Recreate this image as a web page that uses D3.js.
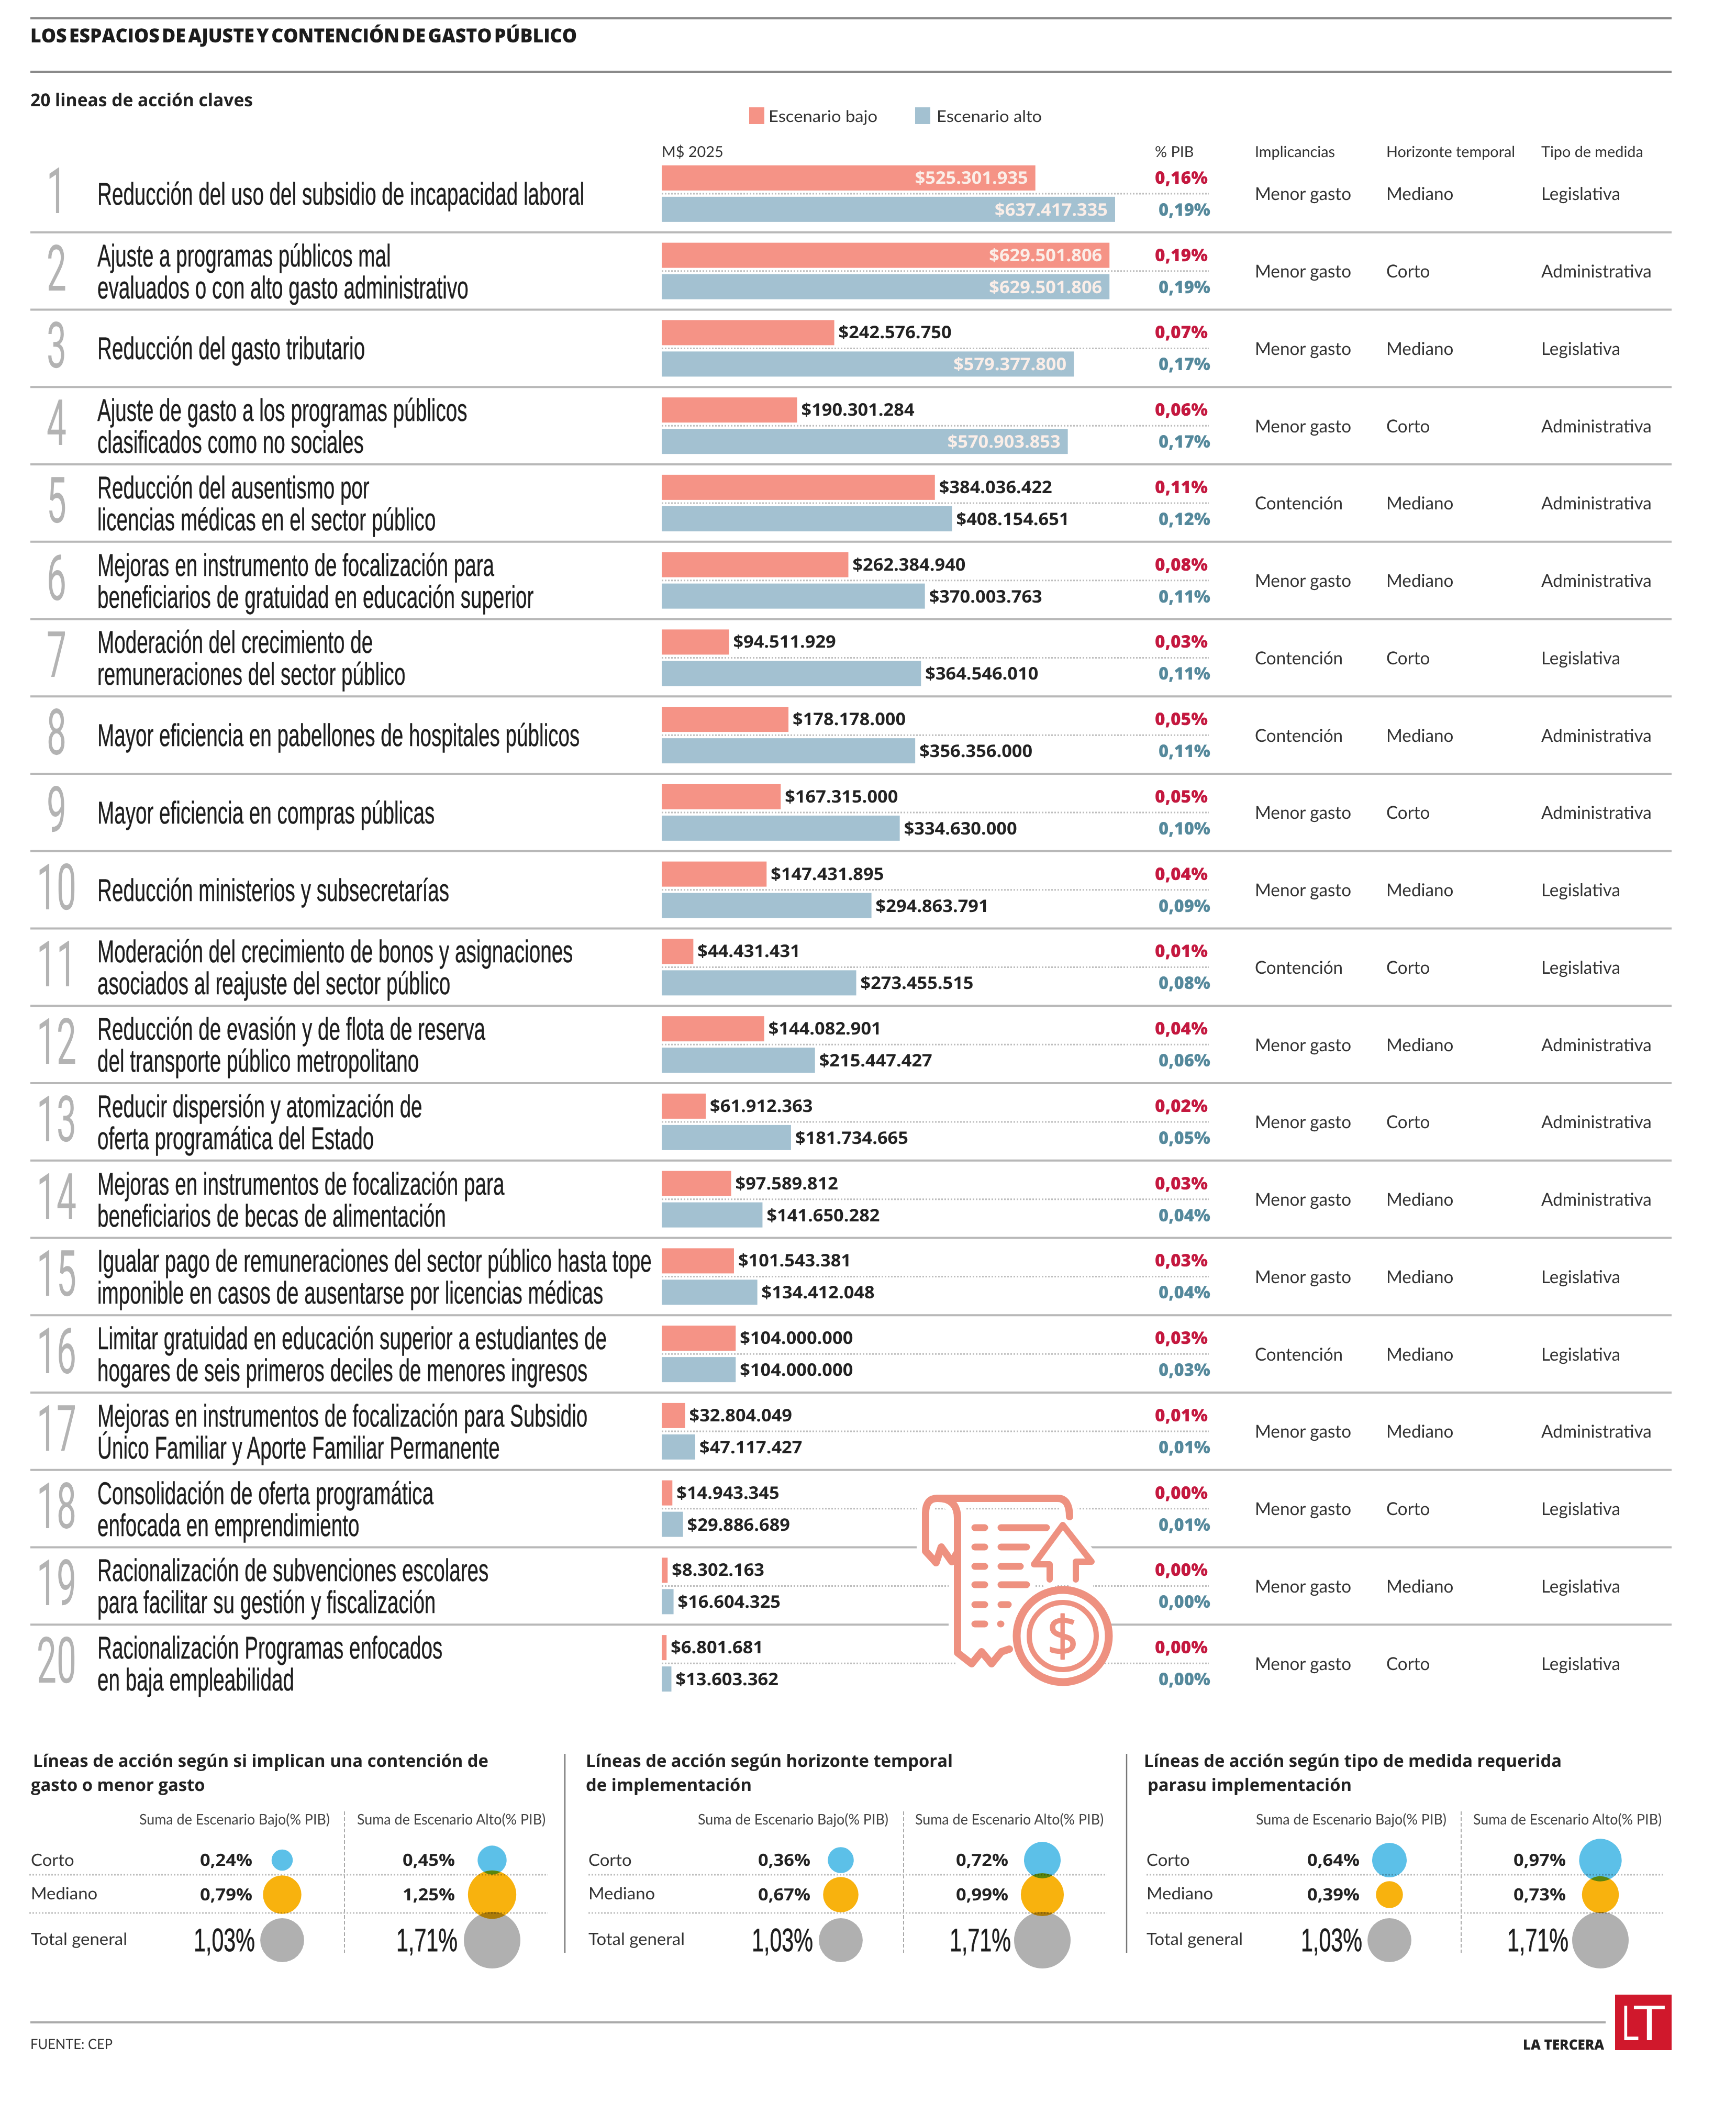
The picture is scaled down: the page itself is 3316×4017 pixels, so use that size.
<!DOCTYPE html>
<html lang="es"><head><meta charset="utf-8">
<style>html,body{margin:0;padding:0;background:#fff}svg{display:block}text{text-rendering:geometricPrecision}</style>
<script src="https://cdn.jsdelivr.net/npm/d3@7"></script></head><body><script>
const labels=[["Reducción del uso del subsidio de incapacidad laboral"],["Ajuste a programas públicos mal","evaluados o con alto gasto administrativo"],["Reducción del gasto tributario"],["Ajuste de gasto a los programas públicos","clasificados como no sociales"],["Reducción del ausentismo por","licencias médicas en el sector público"],["Mejoras en instrumento de focalización para","beneficiarios de gratuidad en educación superior"],["Moderación del crecimiento de","remuneraciones del sector público"],["Mayor eficiencia en pabellones de hospitales públicos"],["Mayor eficiencia en compras públicas"],["Reducción ministerios y subsecretarías"],["Moderación del crecimiento de bonos y asignaciones","asociados al reajuste del sector público"],["Reducción de evasión y de flota de reserva","del transporte público metropolitano"],["Reducir dispersión y atomización de","oferta programática del Estado"],["Mejoras en instrumentos de focalización para","beneficiarios de becas de alimentación"],["Igualar pago de remuneraciones del sector público hasta tope","imponible en casos de ausentarse por licencias médicas"],["Limitar gratuidad en educación superior a estudiantes de","hogares de seis primeros deciles de menores ingresos"],["Mejoras en instrumentos de focalización para Subsidio","Único Familiar y Aporte Familiar Permanente"],["Consolidación de oferta programática","enfocada en emprendimiento"],["Racionalización de subvenciones escolares","para facilitar su gestión y fiscalización"],["Racionalización Programas enfocados","en baja empleabilidad"]];
const low=[525301935,629501806,242576750,190301284,384036422,262384940,94511929,178178000,167315000,147431895,44431431,144082901,61912363,97589812,101543381,104000000,32804049,14943345,8302163,6801681];
const high=[637417335,629501806,579377800,570903853,408154651,370003763,364546010,356356000,334630000,294863791,273455515,215447427,181734665,141650282,134412048,104000000,47117427,29886689,16604325,13603362];
const pctLow=[.16,.19,.07,.06,.11,.08,.03,.05,.05,.04,.01,.04,.02,.03,.03,.03,.01,0,0,0];
const pctHigh=[.19,.19,.17,.17,.12,.11,.11,.11,.10,.09,.08,.06,.05,.04,.04,.03,.01,.01,0,0];
const implicancias=["Menor gasto","Menor gasto","Menor gasto","Menor gasto","Contención","Menor gasto","Contención","Contención","Menor gasto","Menor gasto","Contención","Menor gasto","Menor gasto","Menor gasto","Menor gasto","Contención","Menor gasto","Menor gasto","Menor gasto","Menor gasto"];
const horizonte=["Mediano","Corto","Mediano","Corto","Mediano","Mediano","Corto","Mediano","Corto","Mediano","Corto","Mediano","Corto","Mediano","Mediano","Mediano","Mediano","Corto","Mediano","Corto"];
const tipo=["Legislativa","Administrativa","Legislativa","Administrativa","Administrativa","Administrativa","Legislativa","Administrativa","Administrativa","Legislativa","Legislativa","Administrativa","Administrativa","Administrativa","Legislativa","Legislativa","Administrativa","Legislativa","Legislativa","Legislativa"];
const panelTitles=[["Líneas de acción según si implican una contención de","gasto o menor gasto"],["Líneas de acción según horizonte temporal","de implementación"],["Líneas de acción según tipo de medida requerida","parasu implementación"]];
const panelCategories=["Corto","Mediano","Total general"];
const panelLow=[[.24,.79,1.03],[.36,.67,1.03],[.64,.39,1.03]];
const panelHigh=[[.45,1.25,1.71],[.72,.99,1.71],[.97,.73,1.71]];
const legendNames=["Escenario bajo","Escenario alto"];

const RED="#f59386",BLUE="#a3c1d1",NARROW="'Liberation Sans Narrow','Liberation Sans',sans-serif",OPEN="'Open Sans',sans-serif",LATO="Lato,sans-serif";
const root=d3.select("body").append("svg").attr("width",3316).attr("height",4017).attr("viewBox","0 0 3316 4017");
root.append("rect").attr("width",3316).attr("height",4017).attr("fill","#fff");
const svg=root.append("g").attr("transform","translate(-2,0)");

const S={
 title:{font:OPEN,size:37,weight:800,fill:"#1c1c1c",ref:"LOS ESPACIOS DE AJUSTE Y CONTENCIÓN DE GASTO PÚBLICO",w:1044,word:-5},
 sub:{font:OPEN,size:34,weight:700,fill:"#222",ref:"20 lineas de acción claves",w:425},
 legend:{font:LATO,size:31,weight:400,fill:"#333",ref:"Escenario bajo",w:208},
 head:{font:LATO,size:29,weight:400,fill:"#333",ref:"Horizonte temporal",w:246},
 num:{font:"Roboto,sans-serif",size:122,weight:400,fill:"#b3b3b3",ref:"10",w:76,anchor:"middle"},
 label:{font:NARROW,size:60,weight:400,fill:"#1e1e1e",ref:labels[0][0],w:930,stroke:0.5},
 body:{font:LATO,size:34,weight:400,fill:"#333",ref:"Menor gasto",w:184},
 valDark:{font:OPEN,size:33,weight:700,fill:"#222",ref:"$525.301.935",w:216},
 valLight:{font:OPEN,size:33,weight:700,fill:"#fbeee8",ref:"$525.301.935",w:216,anchor:"end"},
 pctR:{font:OPEN,size:33,weight:800,fill:"#c4183f",ref:"0,16%",w:101},
 pctB:{font:OPEN,size:33,weight:800,fill:"#55899c",ref:"0,19%",w:99},
 ptitle:{font:OPEN,size:33,weight:700,fill:"#222",ref:panelTitles[0][0],w:870},
 phead:{font:LATO,size:28,weight:400,fill:"#444",ref:"Suma de Escenario Bajo(% PIB)",w:364},
 pcat:{font:LATO,size:32,weight:400,fill:"#333",ref:"Total general",w:184},
 psmall:{font:OPEN,size:32,weight:700,fill:"#222",ref:"0,24%",w:100,anchor:"end"},
 ptotal:{font:NARROW,size:62,weight:400,fill:"#1e1e1e",ref:"1,03%",w:117,anchor:"end",stroke:0.8},
 src:{font:LATO,size:27,weight:400,fill:"#333",ref:"FUENTE: CEP",w:157},
 brand:{font:OPEN,size:27,weight:800,fill:"#222",ref:"LA TERCERA",w:155},
 logoL:{font:OPEN,size:92,weight:400,fill:"#fff",ref:"L",w:35},
 logoT:{font:OPEN,size:92,weight:400,fill:"#fff",ref:"T",w:61}
};
function applyStyle(el,st){
  el.attr("font-family",st.font).attr("font-size",st.size).attr("font-weight",st.weight).attr("fill",st.fill).attr("text-anchor",st.anchor||"start").attr("word-spacing",st.word||null);
  if(st.stroke) el.attr("stroke",st.fill).attr("stroke-width",st.stroke);
  return el;
}
function sxOf(st){ if(st.sx)return st.sx; const t=applyStyle(svg.append("text").text(st.ref),st); const l=t.node().getComputedTextLength(); t.remove(); st.sx=st.w/l; return st.sx;}
function T(p,str,x,y,st){return applyStyle(p.append("text").text(str),st).attr("transform",`translate(${x},${y}) scale(${sxOf(st)},1)`);}
function rule(p,x1,x2,y1,y2,c,w,dash){return p.append("line").attr("x1",x1).attr("x2",x2).attr("y1",y1).attr("y2",y2).attr("stroke",c).attr("stroke-width",w).attr("stroke-dasharray",dash||null);}

const fmt=d3.formatLocale({decimal:",",thousands:".",grouping:[3],currency:["$",""]});
const money=fmt.format("$,d"),pct=v=>fmt.format(".2f")(v)+"%";

// header
rule(svg,60,3195,35,35,"#8a8a8a",4);
rule(svg,60,3195,137,137,"#8a8a8a",4);
T(svg,"LOS ESPACIOS DE AJUSTE Y CONTENCIÓN DE GASTO PÚBLICO",60,81,S.title);
T(svg,"20 lineas de acción claves",60,203,S.sub);
const legendX=d3.scaleOrdinal().domain(legendNames).range([1433,1750]);
const legendC=d3.scaleOrdinal().domain(legendNames).range([RED,BLUE]);
legendNames.forEach(n=>{
  svg.append("rect").attr("x",legendX(n)).attr("y",205).attr("width",29).attr("height",32).attr("fill",legendC(n));
  T(svg,n,legendX(n)+(n===legendNames[0]?37:41),233,S.legend);
});
T(svg,"M$ 2025",1266,300,S.head);
T(svg,"% PIB",2208,300,S.head);
T(svg,"Implicancias",2399,300,S.head);
T(svg,"Horizonte temporal",2650,300,S.head);
T(svg,"Tipo de medida",2946,300,S.head);

// rows
const idx=d3.range(labels.length);
const yRow=d3.scaleBand().domain(idx).range([296,296+147.75*20]);
const x=d3.scaleLinear().domain([0,d3.max(high)]).range([1266,2132]);
const BAR=48,GAP=6;
idx.forEach(i=>{
  const top=yRow(i),c=top+yRow.bandwidth()/2,g=svg.append("g");
  if(i<labels.length-1) rule(g,60,3195,top+yRow.bandwidth(),top+yRow.bandwidth(),"#b8b8b8",4);
  rule(g,1266,2311,c,c,"#bdbdbd",3,"3 3");
  T(g,i+1,110,c+37,S.num);
  const ls=labels[i];
  if(ls.length===1) T(g,ls[0],188,c+21,S.label);
  else {T(g,ls[0],188,c-9,S.label);T(g,ls[1],188,c+52,S.label);}
  [[low[i],RED,c-GAP-BAR,pctLow[i],S.pctR,c-19],[high[i],BLUE,c+GAP,pctHigh[i],S.pctB,c+42]].forEach(([v,col,yb,pv,ps,base])=>{
    g.append("rect").attr("x",x(0)).attr("y",yb).attr("width",x(v)-x(0)).attr("height",BAR).attr("fill",col);
    if(v>5e8) T(g,money(v),x(v)-14,base,S.valLight);
    else T(g,money(v),x(v)+8,base,S.valDark);
    T(g,pct(pv),ps===S.pctR?2208:2215,base,ps);
  });
  T(g,implicancias[i],2399,c+12.5,S.body);
  T(g,horizonte[i],2650,c+12.5,S.body);
  T(g,tipo[i],2946,c+12.5,S.body);
});

// icon
const ICON="#ee9180";
const ic=svg.append("g").attr("fill","none").attr("stroke-linecap","round").attr("stroke-linejoin","round");
const roll="M1793 2862H2022Q2045 2862 2045 2897";
const rollL="M1793 2862Q1770 2862 1770 2890V2963L1790 2985L1800 2955L1820 2983L1831 2965";
const paper="M1793 2862Q1831 2862 1831 2900V3157L1858 3178L1877 3155L1896 3178L1915 3155L1930 3150";
const arrow="M2007 3017V2988H1977L2032 2913L2087 2983H2057V3017";
ic.append("path").attr("d","M1831 2900H2045V2960H2090V3060L2032 3020H1980V3180H1831Z").attr("fill","#fff");
ic.append("path").attr("d","M1770 2890H1831V2990H1770Z").attr("fill","#fff");
[roll,rollL,paper,arrow].forEach(d=>ic.append("path").attr("d",d).attr("stroke","#fff").attr("stroke-width",34));
[roll,rollL,paper].forEach(d=>ic.append("path").attr("d",d).attr("stroke",ICON).attr("stroke-width",14));
ic.append("path").attr("d",arrow).attr("stroke",ICON).attr("stroke-width",12);
[[2918,2007],[2955,1969],[2992,1957],[3027,1969],[3065,1934],[3102,1919]].forEach(([yy,xe])=>{
  ic.append("path").attr("d",`M1864 ${yy}H1883M1914 ${yy}H${xe-6}`).attr("stroke",ICON).attr("stroke-width",13);
});
ic.append("circle").attr("cx",2032).attr("cy",3125).attr("r",88).attr("fill","#fff").attr("stroke",ICON).attr("stroke-width",15);
ic.append("circle").attr("cx",2032).attr("cy",3125).attr("r",64).attr("fill","#fff").attr("stroke",ICON).attr("stroke-width",10);
ic.append("text").text("$").attr("x",2032).attr("y",3163).attr("text-anchor","middle").attr("font-family",OPEN).attr("font-weight",400).attr("font-size",106).attr("fill",ICON).attr("stroke",ICON).attr("stroke-width",2);

// panels
const rScale=d3.scaleSqrt().domain([0,1.71]).range([0,54]);
const catColor=d3.scaleOrdinal().domain(panelCategories).range(["#5cc0e8","#f8b20e","#b0b0b0"]);
const catY=d3.scaleOrdinal().domain(panelCategories).range([3564,3628,3715]);
const bubY=d3.scaleOrdinal().domain(panelCategories).range([3553,3619,3706]);
const valY=d3.scaleOrdinal().domain(panelCategories).range([3564,3630,3727]);
const layout=[
 {t:[65,61],cat:61,d0:58,d1:1049,dash:660,hL:268,hH:684,tL:484,tH:871,bL:541,bH:942},
 {t:[1121,1121],cat:1126,d0:1126,d1:2117,dash:1728,hL:1335,hH:1750,tL:1550,tH:1928,bL:1608,bH:1993},
 {t:[2187,2194],cat:2192,d0:2192,d1:3182,dash:2793,hL:2401,hH:2816,tL:2599,tH:2993,bL:2656,bH:3059}];
layout.forEach((L,p)=>{
  const g=svg.append("g");
  T(g,panelTitles[p][0],L.t[0],3375,S.ptitle);
  T(g,panelTitles[p][1],L.t[1],3421,S.ptitle);
  T(g,"Suma de Escenario Bajo(% PIB)",L.hL,3485,S.phead);
  T(g,"Suma de Escenario Alto(% PIB)",L.hH,3485,S.phead);
  rule(g,L.dash,L.dash,3460,3730,"#aaa",2,"7 4");
  rule(g,L.d0,L.d1,3581,3581,"#bdbdbd",3,"3 3");
  rule(g,L.d0,L.d1,3654,3654,"#bdbdbd",3,"3 3");
  panelCategories.forEach((c,j)=>{
    T(g,c,L.cat,catY(c),S.pcat);
    [[panelLow[p][j],L.bL,L.tL],[panelHigh[p][j],L.bH,L.tH]].forEach(([v,bx,tx])=>{
      g.append("circle").attr("cx",bx).attr("cy",bubY(c)).attr("r",rScale(v)).attr("fill",catColor(c)).style("mix-blend-mode","multiply");
      if(j===2) T(g,pct(v),tx+5,valY(c),S.ptotal);
      else T(g,pct(v),tx,valY(c),S.psmall);
    });
  });
});
[1081,2154].forEach(xx=>rule(svg,xx,xx,3350,3730,"#777",2.5));

// footer
rule(svg,60,3069,3863,3863,"#aaa",4);
T(svg,"FUENTE: CEP",60,3914,S.src);
T(svg,"LA TERCERA",2911,3915,S.brand);
svg.append("rect").attr("x",3087).attr("y",3810).attr("width",108).attr("height",106).attr("fill","#d0182c");
T(svg,"L",3098,3897,S.logoL);
T(svg,"T",3122,3897,S.logoT);
</script></body></html>
